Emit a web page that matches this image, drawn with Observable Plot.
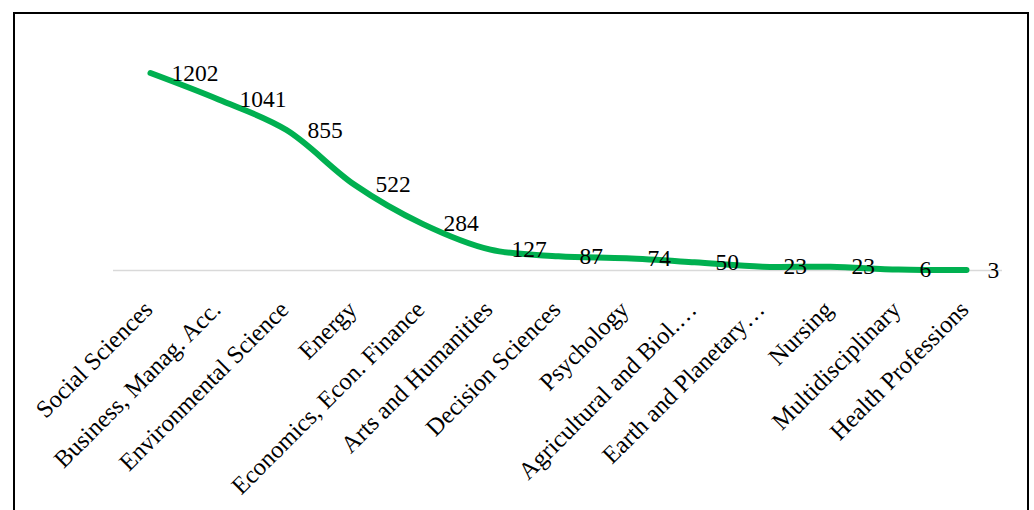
<!DOCTYPE html>
<html>
<head>
<meta charset="utf-8">
<script src="https://cdn.jsdelivr.net/npm/d3@7"></script>
<script src="https://cdn.jsdelivr.net/npm/@observablehq/plot@0.6"></script>
<style>
  html, body { margin: 0; padding: 0; background: #fff; overflow: hidden; }
  #wrap { position: relative; width: 1034px; height: 510px; overflow: hidden; }
  #frame { position: absolute; left: 13px; top: 12px; width: 1016px; height: 520px;
           border: 2px solid #000; box-sizing: border-box; pointer-events: none; }
  #chart { position: absolute; left: 0; top: 0; }
</style>
</head>
<body>
<div id="wrap"><div id="chart"></div><div id="frame"></div></div>
<script>
// Publications per subject area
const subjects = [
  "Social Sciences",
  "Business, Manag. Acc.",
  "Environmental Science",
  "Energy",
  "Economics, Econ. Finance",
  "Arts and Humanities",
  "Decision Sciences",
  "Psychology",
  "Agricultural and Biol.…",
  "Earth and Planetary…",
  "Nursing",
  "Multidisciplinary",
  "Health Professions"
];
const counts = [1202, 1041, 855, 522, 284, 127, 87, 74, 50, 23, 23, 6, 3];

const rows = subjects.map((s, i) => ({subject: s, count: counts[i]}));
const font = "'Liberation Serif', 'Times New Roman', serif";

const chart = Plot.plot({
  width: 1034,
  height: 510,
  marginLeft: 113,
  marginRight: 32,
  marginTop: 40,
  marginBottom: 240,
  style: {fontFamily: font, background: "transparent"},
  x: {type: "point", domain: subjects, padding: 0.5, axis: null},
  y: {domain: [0, 1400], axis: null},
  marks: [
    Plot.ruleY([0], {stroke: "#d9d9d9", strokeWidth: 1.5}),
    Plot.line(rows, {x: "subject", y: "count", stroke: "#00B050", strokeWidth: 6,
      curve: "catmull-rom", strokeLinecap: "round", strokeLinejoin: "round"}),
    Plot.text(rows, {x: "subject", y: "count", text: d => String(d.count),
      textAnchor: "start", dx: 21, fontSize: 23.5, fill: "#000"}),
    Plot.text(rows, {x: "subject", y: () => 0, text: "subject", rotate: -45,
      textAnchor: "end", dx: -2, dy: 35, fontSize: 24.5, fill: "#000"})
  ]
});
document.getElementById("chart").appendChild(chart);
</script>
</body>
</html>
